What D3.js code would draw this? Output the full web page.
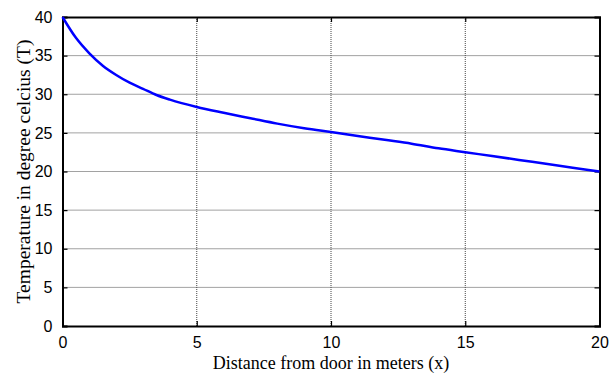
<!DOCTYPE html>
<html>
<head>
<meta charset="utf-8">
<script src="https://cdn.jsdelivr.net/npm/d3@7"></script>
<style>
  body { margin: 0; background: #fff; }
  svg { display: block; }
</style>
</head>
<body>
<div id="chart"></div>
<script>
// Temperature vs distance from door
const distance = [0, 0.5, 1, 1.5, 2, 2.5, 3, 3.5, 4, 5, 6, 7, 8, 9, 10, 11, 12, 13, 14, 15, 16, 17, 18, 19, 20];
const temperature = [40, 37.3, 35.3, 33.7, 32.5, 31.5, 30.7, 29.9, 29.3, 28.35, 27.6, 26.9, 26.2, 25.6, 25.1, 24.6, 24.1, 23.6, 23.0, 22.5, 22.0, 21.5, 21.0, 20.5, 20.0];
const xTicks = [0, 5, 10, 15, 20];
const yTicks = [0, 5, 10, 15, 20, 25, 30, 35, 40];

(function() {
  'use strict';

  const width = 609, height = 373;
  const margin = { left: 62.5, right: 9.5, top: 17, bottom: 47 };

  const svg = d3.select('#chart').append('svg')
    .attr('width', width)
    .attr('height', height);

  const x = d3.scaleLinear().domain([0, 20]).range([margin.left, width - margin.right]);
  const y = d3.scaleLinear().domain([0, 40]).range([height - margin.bottom, margin.top]);

  const g = svg.append('g');

  // Grid lines (dotted)
  g.append('g').selectAll('line')
    .data(xTicks.slice(1, -1))
    .join('line')
    .attr('x1', d => x(d)).attr('x2', d => x(d))
    .attr('y1', y(0)).attr('y2', y(40))
    .attr('stroke', '#444')
    .attr('stroke-width', 1)
    .attr('stroke-dasharray', '1,1');

  g.append('g').selectAll('line')
    .data(yTicks.slice(1, -1))
    .join('line')
    .attr('x1', x(0)).attr('x2', x(20))
    .attr('y1', d => y(d)).attr('y2', d => y(d))
    .attr('stroke', '#444')
    .attr('stroke-width', 1)
    .attr('stroke-dasharray', '1,1');

  // Axes, ticks inward
  const tickLen = 5;
  const xAxisB = d3.axisBottom(x).tickValues(xTicks).tickSize(-tickLen).tickPadding(tickLen + 6).tickFormat(d3.format('d'));
  const xAxisT = d3.axisTop(x).tickValues(xTicks).tickSize(-tickLen).tickFormat('');
  const yAxisL = d3.axisLeft(y).tickValues(yTicks).tickSize(-tickLen).tickPadding(tickLen + 5).tickFormat(d3.format('d'));
  const yAxisR = d3.axisRight(y).tickValues(yTicks).tickSize(-tickLen).tickFormat('');

  const axes = [
    [xAxisB, `translate(0,${y(0)})`],
    [xAxisT, `translate(0,${y(40)})`],
    [yAxisL, `translate(${x(0)},0)`],
    [yAxisR, `translate(${x(20)},0)`]
  ];
  axes.forEach(([ax, tr]) => {
    const a = svg.append('g').attr('transform', tr).call(ax);
    a.select('.domain').attr('stroke', '#000').attr('stroke-width', 2);
    a.selectAll('.tick line').attr('stroke', '#000').attr('stroke-width', 1.2);
    a.selectAll('.tick text')
      .attr('font-family', 'Liberation Sans, Arial, sans-serif')
      .attr('font-size', '16px')
      .attr('fill', '#000');
  });

  // Curve
  const line = d3.line()
    .x((d, i) => x(distance[i]))
    .y(d => y(d))
    .curve(d3.curveMonotoneX);

  svg.append('path')
    .datum(temperature)
    .attr('d', line)
    .attr('fill', 'none')
    .attr('stroke', '#0000ff')
    .attr('stroke-width', 2.5);

  // Axis labels
  svg.append('text')
    .attr('x', (x(0) + x(20)) / 2)
    .attr('y', 369)
    .attr('text-anchor', 'middle')
    .attr('font-family', 'Liberation Serif, Times New Roman, serif')
    .attr('font-size', '18px')
    .text('Distance from door in meters (x)');

  svg.append('text')
    .attr('transform', `translate(30,${(y(0) + y(40)) / 2}) rotate(-90)`)
    .attr('text-anchor', 'middle')
    .attr('font-family', 'Liberation Serif, Times New Roman, serif')
    .attr('font-size', '19.5px')
    .text('Temperature in degree celcius (T)');
})();
</script>
</body>
</html>
